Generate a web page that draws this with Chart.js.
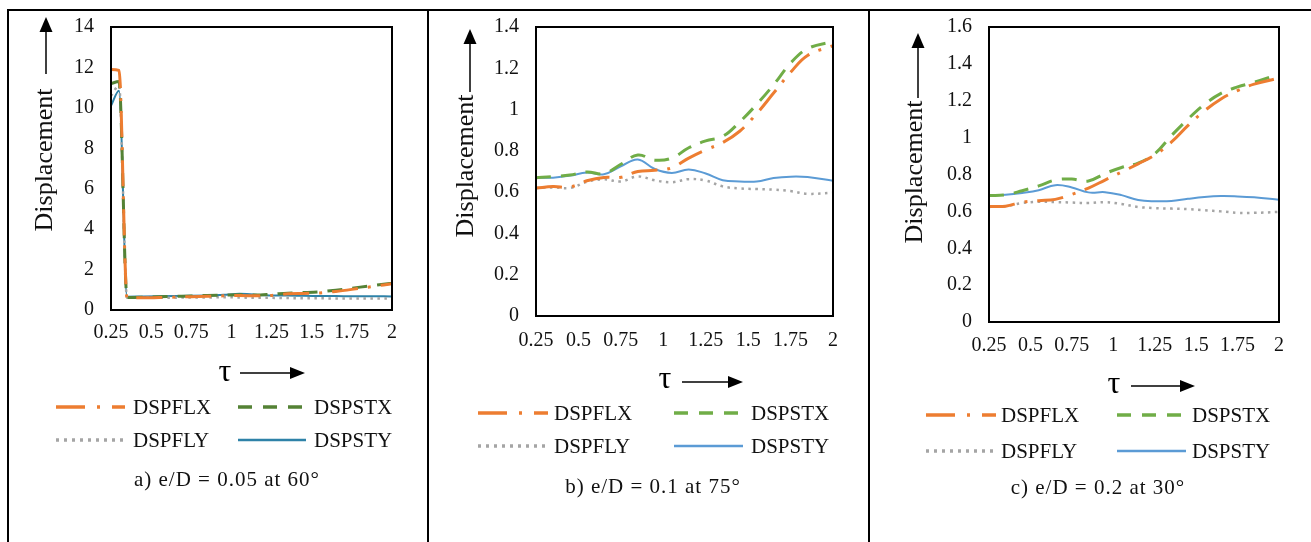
<!DOCTYPE html>
<html>
<head>
<meta charset="utf-8">
<script src="https://cdn.jsdelivr.net/npm/chart.js@4.4.0/dist/chart.umd.min.js"></script>
<style>
    html, body { margin: 0; padding: 0; background: #fff; }
    #page { position: relative; width: 1311px; height: 542px; overflow: hidden; background: #fff; }
    #page canvas { position: absolute; left: 0; top: 0; }
    .rule { position: absolute; background: #000; }
</style>
</head>
<body>
<div id="page">
    <div class="rule" style="left:7px;top:9px;width:1304px;height:2px"></div>
    <div class="rule" style="left:7px;top:9px;width:2px;height:533px"></div>
    <div class="rule" style="left:427px;top:9px;width:2px;height:533px"></div>
    <div class="rule" style="left:868px;top:9px;width:2px;height:533px"></div>
    <canvas id="chartA" width="1311" height="542"></canvas>
    <canvas id="chartB" width="1311" height="542"></canvas>
    <canvas id="chartC" width="1311" height="542"></canvas>
</div>
<script>
// values (tau on x, displacement on y)

var seriesNames = ['DSPFLX', 'DSPSTX', 'DSPFLY', 'DSPSTY'];
var xTicks = [0.25, 0.5, 0.75, 1, 1.25, 1.5, 1.75, 2];

// a) e/D = 0.05 at 60°
var tauA = [0.25, 0.3, 0.35, 0.45, 0.55, 0.65, 0.75, 0.85, 0.95, 1.05, 1.15, 1.25, 1.35, 1.45, 1.55, 1.65, 1.75, 1.85, 2.0];
var flxA = [11.9, 11.85, 0.6, 0.6, 0.62, 0.64, 0.66, 0.68, 0.7, 0.72, 0.7, 0.72, 0.8, 0.82, 0.84, 0.92, 1.02, 1.13, 1.3];
var stxA = [11.2, 11.3, 0.62, 0.63, 0.65, 0.68, 0.69, 0.72, 0.74, 0.76, 0.74, 0.78, 0.83, 0.86, 0.9, 0.98, 1.08, 1.18, 1.33];
var flyA = [10.6, 11.1, 0.6, 0.6, 0.6, 0.61, 0.62, 0.62, 0.63, 0.62, 0.6, 0.6, 0.59, 0.58, 0.58, 0.57, 0.57, 0.57, 0.57];
var styA = [10.1, 10.85, 0.66, 0.67, 0.68, 0.69, 0.7, 0.72, 0.75, 0.8, 0.76, 0.72, 0.72, 0.7, 0.69, 0.69, 0.68, 0.68, 0.67];
var yTicksA = [0, 2, 4, 6, 8, 10, 12, 14];

// b) e/D = 0.1 at 75°  and  c) e/D = 0.2 at 30°
var tauBC = [0.25, 0.35, 0.45, 0.55, 0.65, 0.75, 0.85, 0.95, 1.05, 1.15, 1.25, 1.35, 1.45, 1.55, 1.65, 1.75, 1.85, 2.0];
var flxB = [0.62, 0.627, 0.625, 0.655, 0.671, 0.672, 0.70, 0.706, 0.718, 0.765, 0.805, 0.84, 0.895, 0.98, 1.08, 1.18, 1.262, 1.31];
var stxB = [0.67, 0.675, 0.683, 0.698, 0.69, 0.735, 0.78, 0.755, 0.765, 0.815, 0.848, 0.87, 0.94, 1.025, 1.12, 1.225, 1.295, 1.33];
var flyB = [0.62, 0.623, 0.62, 0.65, 0.662, 0.652, 0.676, 0.657, 0.648, 0.663, 0.656, 0.628, 0.618, 0.615, 0.612, 0.605, 0.592, 0.597];
var styB = [0.671, 0.67, 0.68, 0.695, 0.687, 0.725, 0.758, 0.712, 0.693, 0.71, 0.69, 0.658, 0.652, 0.651, 0.668, 0.675, 0.673, 0.655];
var yTicksB = [0, 0.2, 0.4, 0.6, 0.8, 1, 1.2, 1.4];

var flxC = [0.627, 0.628, 0.65, 0.658, 0.665, 0.692, 0.726, 0.77, 0.813, 0.858, 0.905, 0.975, 1.065, 1.145, 1.21, 1.255, 1.29, 1.323];
var stxC = [0.686, 0.69, 0.712, 0.738, 0.77, 0.775, 0.765, 0.805, 0.838, 0.862, 0.912, 1.01, 1.10, 1.18, 1.24, 1.275, 1.30, 1.344];
var flyC = [0.624, 0.628, 0.645, 0.652, 0.65, 0.648, 0.645, 0.65, 0.64, 0.624, 0.618, 0.615, 0.612, 0.606, 0.60, 0.592, 0.592, 0.597];
var styC = [0.686, 0.69, 0.70, 0.715, 0.742, 0.73, 0.703, 0.704, 0.688, 0.662, 0.655, 0.656, 0.668, 0.678, 0.683, 0.681, 0.676, 0.663];
var yTicksC = [0, 0.2, 0.4, 0.6, 0.8, 1, 1.2, 1.4, 1.6];

// line styles, same order as seriesNames
var colorsA = ['#ED7D31', '#548235', '#A5A5A5', '#2E82A8'];
var colorsBC = ['#ED7D31', '#70AD47', '#A5A5A5', '#5B9BD5'];
var lineWidths = [3, 3, 2.5, 2];
var plotDashes = [[26, 10, 3, 10], [15, 10], [2.5, 4.5], []];
var legendDashes = [[29, 12, 3, 12], [14, 11], [3, 5], []];

var SERIF = "'Liberation Serif', 'Times New Roman', serif";
Chart.defaults.font.family = SERIF;
Chart.defaults.color = '#111';

// where each panel sits on the page (one full size canvas per panel)
var panelLayout = {
    chartA: {
        area: { left: 111, right: 392, top: 21, bottom: 310 }, xGap: 13,
        yTitle: { x: 45, y: 160 }, yArrow: { x: 46, y0: 74, y1: 17 },
        xTitle: { x: 225, y: 373 }, xArrow: { x0: 240, x1: 305, y: 373 },
        rows: [407, 440], cols: [{ x0: 56, x1: 125, tx: 133 }, { x0: 238, x1: 306, tx: 314 }],
        caption: { x: 227, y: 480, text: 'a) e/D = 0.05 at 60°' }
    },
    chartB: {
        area: { left: 536, right: 833, top: 22, bottom: 316 }, xGap: 15,
        yTitle: { x: 466, y: 166 }, yArrow: { x: 470, y0: 92, y1: 29 },
        xTitle: { x: 665, y: 380 }, xArrow: { x0: 682, x1: 743, y: 382 },
        rows: [413, 446], cols: [{ x0: 478, x1: 548, tx: 554 }, { x0: 674, x1: 743, tx: 751 }],
        caption: { x: 653, y: 487, text: 'b) e/D = 0.1 at 75°' }
    },
    chartC: {
        area: { left: 989, right: 1279, top: 22, bottom: 322 }, xGap: 14,
        yTitle: { x: 915, y: 172 }, yArrow: { x: 918, y0: 98, y1: 33 },
        xTitle: { x: 1114, y: 385 }, xArrow: { x0: 1131, x1: 1195, y: 386 },
        rows: [415, 451], cols: [{ x0: 926, x1: 996, tx: 1001 }, { x0: 1117, x1: 1186, tx: 1192 }],
        caption: { x: 1098, y: 488, text: 'c) e/D = 0.2 at 30°' }
    }
};

function fmt(v) {
    return String(+v.toFixed(2));
}

// box, axis titles with arrows, legend grid and caption
var decoPlugin = {
    id: 'deco',
    afterDraw: function (chart) {
        var lay = panelLayout[chart.canvas.id];
        var ctx = chart.ctx;
        var a = chart.chartArea;
        ctx.save();

        ctx.strokeStyle = '#000';
        ctx.lineWidth = 2;
        ctx.setLineDash([]);
        ctx.strokeRect(a.left, a.top, a.right - a.left, a.bottom - a.top);

        ctx.fillStyle = '#111';

        // y title
        ctx.save();
        ctx.translate(lay.yTitle.x, lay.yTitle.y);
        ctx.rotate(-Math.PI / 2);
        ctx.font = '26px ' + SERIF;
        ctx.textAlign = 'center';
        ctx.textBaseline = 'middle';
        ctx.fillText('Displacement', 0, 0);
        ctx.restore();

        ctx.fillStyle = '#000';
        ctx.lineWidth = 1.5;
        ctx.beginPath();
        ctx.moveTo(lay.yArrow.x, lay.yArrow.y0);
        ctx.lineTo(lay.yArrow.x, lay.yArrow.y1 + 10);
        ctx.stroke();
        ctx.beginPath();
        ctx.moveTo(lay.yArrow.x, lay.yArrow.y1);
        ctx.lineTo(lay.yArrow.x - 6.5, lay.yArrow.y1 + 15);
        ctx.lineTo(lay.yArrow.x + 6.5, lay.yArrow.y1 + 15);
        ctx.closePath();
        ctx.fill();

        // x title
        ctx.font = '32px ' + SERIF;
        ctx.textAlign = 'center';
        ctx.textBaseline = 'middle';
        ctx.fillText('τ', lay.xTitle.x, lay.xTitle.y);
        ctx.beginPath();
        ctx.moveTo(lay.xArrow.x0, lay.xArrow.y);
        ctx.lineTo(lay.xArrow.x1 - 10, lay.xArrow.y);
        ctx.stroke();
        ctx.beginPath();
        ctx.moveTo(lay.xArrow.x1, lay.xArrow.y);
        ctx.lineTo(lay.xArrow.x1 - 15, lay.xArrow.y - 6);
        ctx.lineTo(lay.xArrow.x1 - 15, lay.xArrow.y + 6);
        ctx.closePath();
        ctx.fill();

        // legend, two columns
        ctx.font = '21px ' + SERIF;
        ctx.textAlign = 'left';
        chart.data.datasets.forEach(function (ds, i) {
            var y = lay.rows[Math.floor(i / 2)];
            var col = lay.cols[i % 2];
            ctx.save();
            ctx.beginPath();
            ctx.rect(col.x0, y - 5, col.x1 - col.x0, 10);
            ctx.clip();
            ctx.strokeStyle = ds.borderColor;
            ctx.lineWidth = i == 3 ? 2.5 : 3.5;
            ctx.setLineDash(legendDashes[i]);
            ctx.beginPath();
            ctx.moveTo(col.x0, y);
            ctx.lineTo(col.x1 + 20, y);
            ctx.stroke();
            ctx.restore();
            ctx.fillStyle = '#111';
            ctx.fillText(ds.label, col.tx, y + 1);
        });

        // caption
        ctx.font = '21px ' + SERIF;
        ctx.textAlign = 'center';
        if ('letterSpacing' in ctx) ctx.letterSpacing = '1px';
        ctx.fillText(lay.caption.text, lay.caption.x, lay.caption.y);

        ctx.restore();
    }
};

function makePanel(id, tau, series, colors, yTicks, smooth) {
    var lay = panelLayout[id];
    var yAxisW = 60;
    var xAxisH = 40;

    var datasets = seriesNames.map(function (name, i) {
        return {
            label: name,
            data: tau.map(function (t, j) { return { x: t, y: series[i][j] }; }),
            borderColor: colors[i],
            backgroundColor: colors[i],
            borderWidth: lineWidths[i],
            borderDash: plotDashes[i],
            pointRadius: 0,
            fill: false,
            tension: smooth ? 0.4 : 0,
            cubicInterpolationMode: smooth ? 'default' : 'monotone'
        };
    });

    return new Chart(document.getElementById(id), {
        type: 'line',
        data: { datasets: datasets },
        options: {
            responsive: false,
            animation: false,
            events: [],
            layout: {
                padding: {
                    left: lay.area.left - yAxisW,
                    right: 1311 - lay.area.right,
                    top: lay.area.top,
                    bottom: 542 - lay.area.bottom - xAxisH
                }
            },
            plugins: { legend: { display: false }, tooltip: { enabled: false } },
            scales: {
                x: {
                    type: 'linear',
                    min: xTicks[0],
                    max: xTicks[xTicks.length - 1],
                    grid: { display: false, drawTicks: false },
                    border: { display: false },
                    afterBuildTicks: function (s) { s.ticks = xTicks.map(function (v) { return { value: v }; }); },
                    afterFit: function (s) { s.height = xAxisH; },
                    ticks: { padding: lay.xGap, maxRotation: 0, autoSkip: false, font: { size: 20, lineHeight: 1 }, callback: fmt }
                },
                y: {
                    type: 'linear',
                    min: yTicks[0],
                    max: yTicks[yTicks.length - 1],
                    grid: { display: false, drawTicks: false },
                    border: { display: false },
                    afterBuildTicks: function (s) { s.ticks = yTicks.map(function (v) { return { value: v }; }); },
                    afterFit: function (s) { s.width = yAxisW; },
                    ticks: { padding: 17, autoSkip: false, font: { size: 20, lineHeight: 1 }, callback: fmt }
                }
            }
        },
        plugins: [decoPlugin]
    });
}

makePanel('chartA', tauA, [flxA, stxA, flyA, styA], colorsA, yTicksA, false);
makePanel('chartB', tauBC, [flxB, stxB, flyB, styB], colorsBC, yTicksB, true);
makePanel('chartC', tauBC, [flxC, stxC, flyC, styC], colorsBC, yTicksC, true);
</script>
</body>
</html>
